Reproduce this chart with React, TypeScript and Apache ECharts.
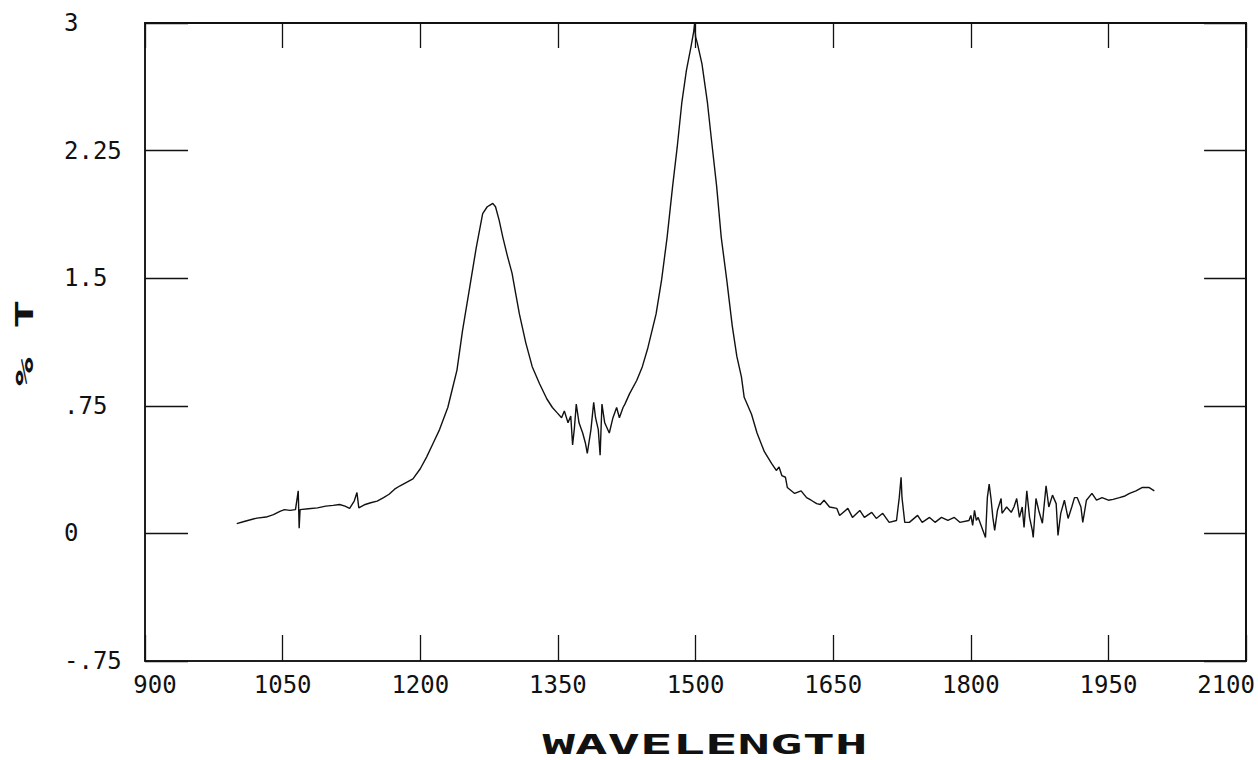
import React, { useEffect, useRef } from "react";
import * as echarts from "echarts";

const wavelength: number[] = [
  1000, 1008, 1015, 1022, 1032, 1040, 1047, 1052, 1058, 1064, 1067, 1068, 1069, 1078, 1088, 1097,
  1105, 1112, 1118, 1123, 1128, 1131, 1133, 1140, 1146, 1153, 1160, 1166, 1172, 1178, 1185, 1192,
  1200, 1207, 1214, 1221, 1230, 1235, 1240, 1246, 1254, 1261, 1268, 1273, 1276, 1279, 1282, 1286,
  1290, 1295, 1300, 1304, 1308, 1315, 1322, 1330, 1338, 1344, 1349, 1354, 1357, 1361, 1364, 1366,
  1368, 1370, 1373, 1377, 1380, 1382, 1386, 1389, 1391, 1394, 1396, 1398, 1401, 1406, 1410, 1414,
  1417, 1421, 1423, 1428, 1436, 1442, 1448, 1457, 1463, 1469, 1475, 1480, 1485, 1490, 1495, 1498,
  1499, 1500, 1502, 1507, 1513, 1517, 1523, 1528, 1534, 1540, 1545, 1550, 1553, 1561, 1567, 1575,
  1583, 1588, 1591, 1594, 1598, 1600, 1608, 1615, 1621, 1626, 1632, 1636, 1640, 1646, 1654, 1657,
  1666, 1671, 1679, 1684, 1692, 1697, 1704, 1711, 1719, 1722, 1724, 1725, 1728, 1733, 1742, 1747,
  1755, 1761, 1768, 1775, 1782, 1788, 1798, 1800, 1802, 1804, 1806, 1808, 1816, 1818, 1820, 1822,
  1824, 1826, 1829, 1833, 1834, 1839, 1844, 1847, 1850, 1853, 1856, 1858, 1861, 1864, 1867, 1868,
  1871, 1874, 1878, 1882, 1885, 1889, 1893, 1895, 1898, 1902, 1906, 1910, 1913, 1916, 1920, 1922,
  1926, 1932, 1937, 1943, 1950, 1955, 1962, 1968, 1973, 1980, 1987, 1994, 2000,
];

const transmittance: number[] = [
  0.057, 0.07, 0.08, 0.09, 0.096, 0.11, 0.13, 0.14, 0.135, 0.14, 0.25, 0.03, 0.14, 0.145, 0.15, 0.16,
  0.165, 0.17, 0.16, 0.147, 0.19, 0.24, 0.15, 0.17, 0.18, 0.19, 0.21, 0.23, 0.26, 0.28, 0.3, 0.32,
  0.38, 0.45, 0.53, 0.61, 0.74, 0.85, 0.96, 1.19, 1.45, 1.68, 1.88, 1.92, 1.93, 1.94, 1.92, 1.84,
  1.74, 1.63, 1.53, 1.41, 1.29, 1.12, 0.98, 0.88, 0.79, 0.74, 0.71, 0.68, 0.72, 0.65, 0.69, 0.52,
  0.62, 0.76, 0.65, 0.59, 0.53, 0.47, 0.61, 0.77, 0.68, 0.61, 0.46, 0.76, 0.65, 0.59, 0.68, 0.74,
  0.68, 0.74, 0.76, 0.82, 0.9, 0.98, 1.09, 1.29, 1.49, 1.74, 2.04, 2.27, 2.53, 2.72, 2.86, 2.95,
  3.0, 2.92, 2.88, 2.76, 2.53, 2.33, 2.04, 1.74, 1.49, 1.22, 1.04, 0.92, 0.8, 0.7, 0.59, 0.48,
  0.41, 0.37, 0.39, 0.34, 0.33, 0.27, 0.235, 0.25, 0.21, 0.195, 0.175, 0.17, 0.195, 0.155, 0.147, 0.105,
  0.147, 0.094, 0.135, 0.094, 0.124, 0.088, 0.118, 0.065, 0.076, 0.21, 0.33, 0.21, 0.065, 0.065, 0.106, 0.065,
  0.094, 0.065, 0.094, 0.076, 0.094, 0.065, 0.076, 0.106, 0.047, 0.135, 0.076, 0.094, -0.024, 0.21, 0.29, 0.205,
  0.094, 0.018, 0.135, 0.205, 0.118, 0.155, 0.124, 0.155, 0.205, 0.094, 0.155, 0.035, 0.25, 0.094, 0.018, -0.024,
  0.205, 0.135, 0.06, 0.28, 0.155, 0.225, 0.175, -0.012, 0.118, 0.195, 0.088, 0.155, 0.21, 0.21, 0.155, 0.065,
  0.195, 0.235, 0.195, 0.21, 0.195, 0.2, 0.21, 0.22, 0.235, 0.25, 0.27, 0.27, 0.25,
];

const xMin = 900;
const xMax = 2100;
const xStep = 150;
const yMin = -0.75;
const yMax = 3;
const yStep = 0.75;
const xTitle = "WAVELENGTH";
const yTitle = "% T";

const FONT = "'DejaVu Sans Mono', 'Liberation Mono', monospace";
const INK = "#111";

export default function App() {
  const ref = useRef<HTMLDivElement>(null);

  useEffect(() => {
    if (!ref.current) return;
    const chart = echarts.init(ref.current, undefined, { renderer: "svg" });
    const data = wavelength.map((w, i) => [w, transmittance[i]]);

    const yFmt = (v: number) => {
      const r = Math.round(v * 100) / 100;
      return String(r).replace(/^(-?)0\./, "$1.");
    };

    const xFmt = (v: number) => {
      if (v === xMin) return "{min|" + v + "}";
      if (v === xMax) return "{max|" + v + "}";
      return "{n|" + v + "}";
    };

    const labelText = { fontFamily: FONT, fontSize: 24, color: INK };

    chart.setOption({
      animation: false,
      backgroundColor: "#fff",
      grid: {
        left: 145,
        right: 11,
        top: 23,
        bottom: 99,
        show: true,
        borderColor: INK,
        borderWidth: 1.5,
      },
      xAxis: [
        {
          type: "value",
          position: "bottom",
          min: xMin,
          max: xMax,
          interval: xStep,
          axisLine: { show: true, onZero: false, lineStyle: { color: INK, width: 1.5 } },
          axisTick: { show: true, inside: true, length: 26, lineStyle: { color: INK, width: 1.3 } },
          splitLine: { show: false },
          axisLabel: {
            show: true,
            margin: 12,
            formatter: xFmt,
            rich: {
              n: { ...labelText },
              min: { ...labelText, padding: [0, 0, 0, 20] },
              max: { ...labelText, padding: [0, 40, 0, 0] },
            },
          },
        },
        {
          type: "value",
          position: "top",
          min: xMin,
          max: xMax,
          interval: xStep,
          axisLine: { show: true, onZero: false, lineStyle: { color: INK, width: 2 } },
          axisTick: { show: true, inside: true, length: 25, lineStyle: { color: INK, width: 1.3 } },
          splitLine: { show: false },
          axisLabel: { show: false },
        },
      ],
      yAxis: [
        {
          type: "value",
          position: "left",
          min: yMin,
          max: yMax,
          interval: yStep,
          axisLine: { show: true, onZero: false, lineStyle: { color: INK, width: 1.5 } },
          axisTick: { show: true, inside: true, length: 43, lineStyle: { color: INK, width: 1.3 } },
          splitLine: { show: false },
          axisLabel: {
            show: true,
            align: "left",
            margin: 81,
            formatter: yFmt,
            ...labelText,
          },
        },
        {
          type: "value",
          position: "right",
          min: yMin,
          max: yMax,
          interval: yStep,
          axisLine: { show: true, onZero: false, lineStyle: { color: INK, width: 2 } },
          axisTick: { show: true, inside: true, length: 42, lineStyle: { color: INK, width: 1.3 } },
          splitLine: { show: false },
          axisLabel: { show: false },
        },
      ],
      graphic: [
        {
          type: "text",
          x: 705,
          y: 745,
          scaleX: 2,
          style: {
            text: xTitle,
            fontFamily: FONT,
            fontSize: 27,
            fontWeight: "bold",
            fill: INK,
            textAlign: "center",
            textVerticalAlign: "middle",
          },
        },
        {
          type: "text",
          x: 25,
          y: 343,
          rotation: Math.PI / 2,
          scaleX: 2,
          style: {
            text: yTitle,
            fontFamily: FONT,
            fontSize: 24,
            fontWeight: "bold",
            fill: INK,
            textAlign: "center",
            textVerticalAlign: "middle",
          },
        },
      ],
      series: [
        {
          type: "line",
          xAxisIndex: 0,
          yAxisIndex: 0,
          data,
          showSymbol: false,
          symbol: "none",
          lineStyle: { color: INK, width: 1.4 },
        },
      ],
    });

    return () => chart.dispose();
  }, []);

  return (
    <div
      ref={ref}
      style={{ position: "fixed", left: 0, top: 0, width: 1258, height: 760, background: "#fff" }}
    />
  );
}
